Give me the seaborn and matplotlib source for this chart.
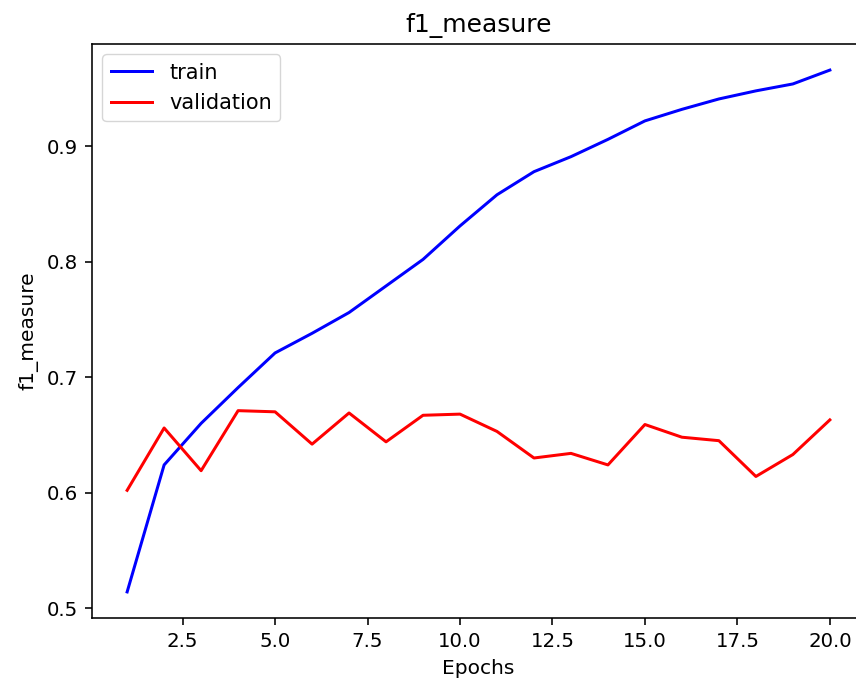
import matplotlib
matplotlib.use("Agg")
import matplotlib.pyplot as plt
import seaborn as sns
import pandas as pd

epochs = list(range(1, 21))
train = [0.514, 0.624, 0.660, 0.691, 0.721, 0.738, 0.756, 0.779, 0.802, 0.831,
         0.858, 0.878, 0.891, 0.906, 0.922, 0.932, 0.941, 0.948, 0.954, 0.966]
validation = [0.602, 0.656, 0.619, 0.671, 0.670, 0.642, 0.669, 0.644, 0.667, 0.668,
              0.653, 0.630, 0.634, 0.624, 0.659, 0.648, 0.645, 0.614, 0.633, 0.663]

df = pd.DataFrame({"Epochs": epochs * 2,
                   "f1_measure": train + validation,
                   "series": ["train"] * 20 + ["validation"] * 20})

s = 1.44
plt.rcParams.update({
    "xtick.major.size": 3.5 * s, "ytick.major.size": 3.5 * s,
    "xtick.major.width": 0.8 * s, "ytick.major.width": 0.8 * s,
    "axes.linewidth": 0.8 * s,
})

fig = plt.figure(figsize=(8.56, 6.83), dpi=100)
# axes extends slightly past the right edge (reference is cropped there)
ax = fig.add_axes([92 / 856, 1 - 618 / 683, 773 / 856, 574 / 683])
sns.lineplot(data=df, x="Epochs", y="f1_measure", hue="series",
             palette={"train": "blue", "validation": "red"}, ax=ax, linewidth=1.5 * s)
ax.set_title("f1_measure", fontsize=18, pad=6 * s)
ax.set_xlabel("Epochs", fontsize=14.5, labelpad=4 * s)
ax.set_ylabel("f1_measure", fontsize=14.5, labelpad=4 * s)
ax.tick_params(labelsize=14.2, pad=3.5 * s)
ax.set_yticks([0.5, 0.6, 0.7, 0.8, 0.9])
ax.legend(title=None, loc="upper left", fontsize=15)
fig.savefig("out.png", dpi=100)
